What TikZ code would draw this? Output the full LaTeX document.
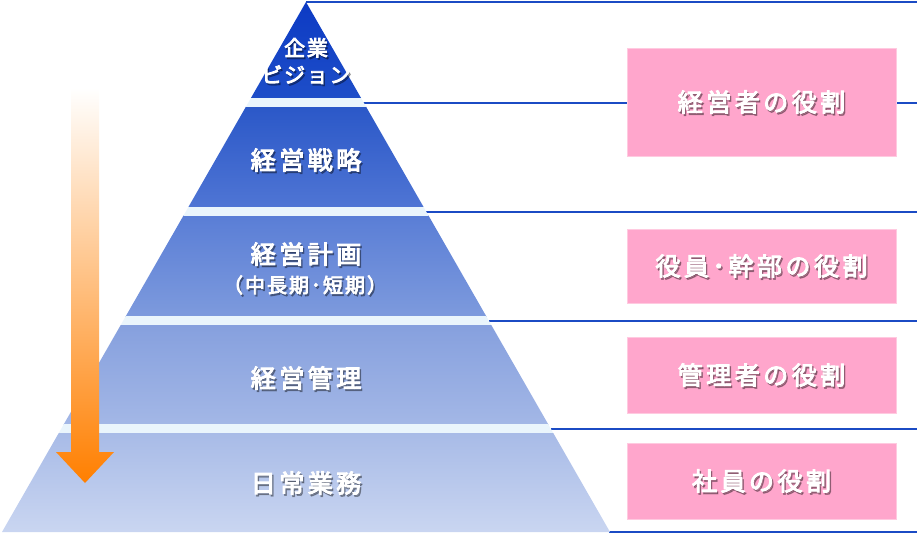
\documentclass[tikz,border=0pt]{standalone}
\usepackage{fontspec}
\setmainfont{Noto Sans CJK JP}
\newfontfamily\jpbold{Noto Sans CJK JP}[FakeBold=4]
\usepackage{tikz}
\usetikzlibrary{positioning}
\usetikzlibrary{calc}

\definecolor{lineblue}{HTML}{1B4BC4}
\definecolor{bandcol}{HTML}{EAF5FC}
\definecolor{rolepink}{HTML}{FFA6CC}
\definecolor{arroworange}{HTML}{FF7F00}

\tikzset{
  lbl/.style={text=white, inner sep=0pt, align=center,
    font=\jpbold\fontsize{25}{28}\selectfont\addfontfeature{LetterSpace=14}},
  lblshadow/.style={lbl, text=black, opacity=0.3},
  rolebox/.style={fill=rolepink, draw=rolepink!60!white, line width=0.8,
    minimum width=269, inner sep=0pt},
  divline/.style={draw=lineblue, line width=1.5},
}

% shadowed white text: [font] name position text
\newcommand{\shadowlabel}[4][]{%
  \node[lblshadow,#1] (#2-sh) at ($(#3)+(1.5,2)$) {#4};
  \node[lbl,#1] (#2) at (#3) {#4};
}

\begin{document}
\begin{tikzpicture}[x=1pt,y=-1pt]
\useasboundingbox (0,0) rectangle (917,534);

\coordinate (apex) at (306,2);
\coordinate (e1) at (363,103);
\coordinate (e2) at (426,212);
\coordinate (e3) at (489,321);
\coordinate (e4) at (551,429);
\coordinate (e5) at (609,532);
\coordinate (r0) at (917,2);
\coordinate (r1) at (917,103);
\coordinate (r2) at (917,212);
\coordinate (r3) at (917,321);
\coordinate (r4) at (917,429);
\coordinate (r5) at (917,532);

\draw[divline] (apex) -- (r0);
\draw[divline] (e1) -- (r1);
\draw[divline] (e2) -- (r2);
\draw[divline] (e3) -- (r3);
\draw[divline] (e4) -- (r4);
\draw[divline] (e5) -- (r5);

\begin{scope}
\clip (apex) -- (610,532) -- (2,532) -- cycle;
\shade[top color={rgb,255:red,12;green,58;blue,196}, bottom color={rgb,255:red,30;green,78;blue,200}] (0,0) rectangle (612,98);
\shade[top color={rgb,255:red,43;green,88;blue,200}, bottom color={rgb,255:red,79;green,117;blue,212}] (0,107) rectangle (612,207);
\shade[top color={rgb,255:red,90;green,126;blue,214}, bottom color={rgb,255:red,125;green,154;blue,221}] (0,216) rectangle (612,316);
\shade[top color={rgb,255:red,134;green,160;blue,222}, bottom color={rgb,255:red,163;green,183;blue,230}] (0,325) rectangle (612,424);
\shade[top color={rgb,255:red,168;green,187;blue,231}, bottom color={rgb,255:red,202;green,214;blue,241}] (0,433) rectangle (612,534);
\fill[bandcol] (0,98) rectangle (612,107);
\fill[bandcol] (0,207) rectangle (612,216);
\fill[bandcol] (0,316) rectangle (612,325);
\fill[bandcol] (0,424) rectangle (612,433);
\end{scope}

% arrow
\shade[top color=white, bottom color=arroworange]
  (71,88) -- (99,88) -- (99,452) -- (114,452) -- (85,483) -- (56,452) -- (71,452) -- cycle;

\node[rolebox, minimum height=108] (role1) at (761.5,102) {};
\node[rolebox, minimum height=74] (role2) at (761.5,266) {};
\node[rolebox, minimum height=76] (role3) at (761.5,375) {};
\node[rolebox, minimum height=76] (role4) at (761.5,481) {};

\shadowlabel[font=\jpbold\fontsize{21}{27}\selectfont\addfontfeature{LetterSpace=8}]{vision}{306,61}{企業\\ビジョン}
\shadowlabel{strategy}{306,160}{経営戦略}
\shadowlabel{plan}{306,254}{経営計画}
\shadowlabel[font=\jpbold\fontsize{20}{22}\selectfont\addfontfeature{LetterSpace=10}]{term}{305,285}{（中長期･短期）}
\shadowlabel{manage}{306,378}{経営管理}
\shadowlabel{daily}{306,483}{日常業務}

\shadowlabel{role1t}{role1}{経営者の役割}
\shadowlabel{role2t}{role2}{役員･幹部の役割}
\shadowlabel{role3t}{role3}{管理者の役割}
\shadowlabel{role4t}{role4}{社員の役割}
\end{tikzpicture}
\end{document}
